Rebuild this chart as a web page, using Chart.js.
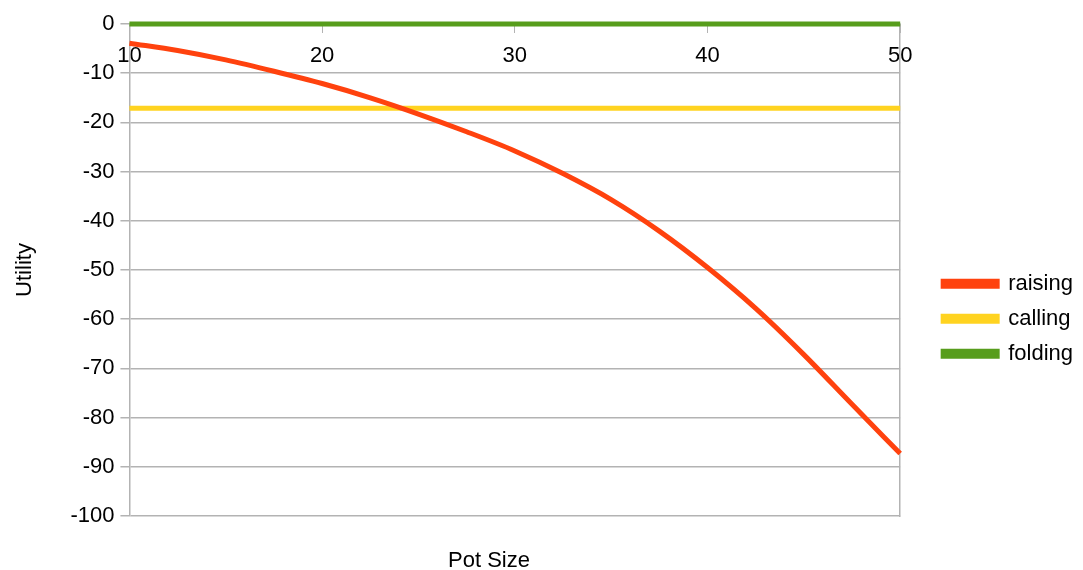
<!DOCTYPE html>
<html>
<head>
<meta charset="utf-8">
<script src="https://cdn.jsdelivr.net/npm/chart.js@4/dist/chart.umd.min.js"></script>
<style>
  html, body { margin: 0; padding: 0; background: #fff; }
  #wrap { width: 1083px; height: 570px; }
</style>
</head>
<body>
<div id="wrap"><canvas id="graph" width="1083" height="570"></canvas></div>
<script>
// pot sizes
const potSizes = [10, 12.5, 15, 17.5, 20, 22.5, 25, 27.5, 30, 32.5, 35, 37.5, 40, 42.5, 45, 47.5, 50];
const raising = [-3.9, -5.4, -7.3, -9.6, -12.1, -15.0, -18.3, -21.9, -25.8, -30.4, -35.7, -42.1, -49.5, -57.8, -67.2, -77.3, -87.3];
const calling = potSizes.map(() => -17.1);
const folding = potSizes.map(() => 0);
const xTicks = [10, 20, 30, 40, 50];
const yTicks = [0, -10, -20, -30, -40, -50, -60, -70, -80, -90, -100];

const seriesNames = ['raising', 'calling', 'folding'];
const seriesColors = ['#ff420e', '#ffd320', '#579d1c'];
const fontFamily = '"Liberation Sans", Arial, sans-serif';
const gridColor = '#b3b3b3';

function toPoints(values) {
    return potSizes.map((x, i) => ({ x: x, y: values[i] }));
}

// "Pot Size" sits under the plot, a bit left of centre like the original
const potSizeTitle = {
    id: 'potSizeTitle',
    afterDraw(chart) {
        const ctx = chart.ctx;
        ctx.save();
        ctx.font = '22px ' + fontFamily;
        ctx.fillStyle = '#000';
        ctx.textAlign = 'center';
        ctx.textBaseline = 'middle';
        ctx.fillText('Pot Size', 489, 561);
        ctx.restore();
    }
};

const ctx = document.getElementById('graph').getContext('2d');
new Chart(ctx, {
    type: 'line',
    data: {
        datasets: [raising, calling, folding].map((vals, i) => ({
            label: seriesNames[i],
            data: toPoints(vals),
            borderColor: seriesColors[i],
            backgroundColor: seriesColors[i],
            borderWidth: 5,
            pointRadius: 0,
            cubicInterpolationMode: 'monotone',
            clip: false,
            fill: false
        }))
    },
    options: {
        responsive: false,
        animation: false,
        layout: { padding: { top: 24, bottom: 54, left: 12, right: 0 } },
        scales: {
            x: {
                type: 'linear',
                position: { y: 0 },
                min: 10,
                max: 50,
                afterBuildTicks: axis => { axis.ticks = xTicks.map(v => ({ value: v })); },
                grid: { drawOnChartArea: false, color: gridColor, tickLength: 9 },
                border: { display: false },
                ticks: { color: '#000', font: { family: fontFamily, size: 22 }, padding: 10, maxRotation: 0 }
            },
            y: {
                type: 'linear',
                position: 'left',
                min: -100,
                max: 0,
                afterBuildTicks: axis => { axis.ticks = yTicks.map(v => ({ value: v })); },
                grid: { color: gridColor, tickLength: 9, lineWidth: 1.5 },
                border: { color: gridColor, width: 1.5 },
                ticks: { color: '#000', font: { family: fontFamily, size: 22 }, padding: 6 },
                title: { display: true, text: 'Utility', color: '#000', font: { family: fontFamily, size: 22 }, padding: { top: 0, bottom: 26 } }
            },
            yRight: {
                type: 'linear',
                position: 'right',
                min: -100,
                max: 0,
                grid: { drawOnChartArea: false, drawTicks: false },
                border: { color: gridColor, width: 1.5 },
                ticks: { display: false },
                afterFit: axis => { axis.width = 30; }
            }
        },
        plugins: {
            legend: {
                position: 'right',
                align: 'center',
                title: { display: true, text: ' ', padding: 38, font: { size: 18 } },
                labels: {
                    boxWidth: 54,
                    boxHeight: 5,
                    padding: 13,
                    color: '#000',
                    font: { family: fontFamily, size: 22 }
                }
            },
            tooltip: { enabled: false }
        }
    },
    plugins: [potSizeTitle]
});
</script>
</body>
</html>
